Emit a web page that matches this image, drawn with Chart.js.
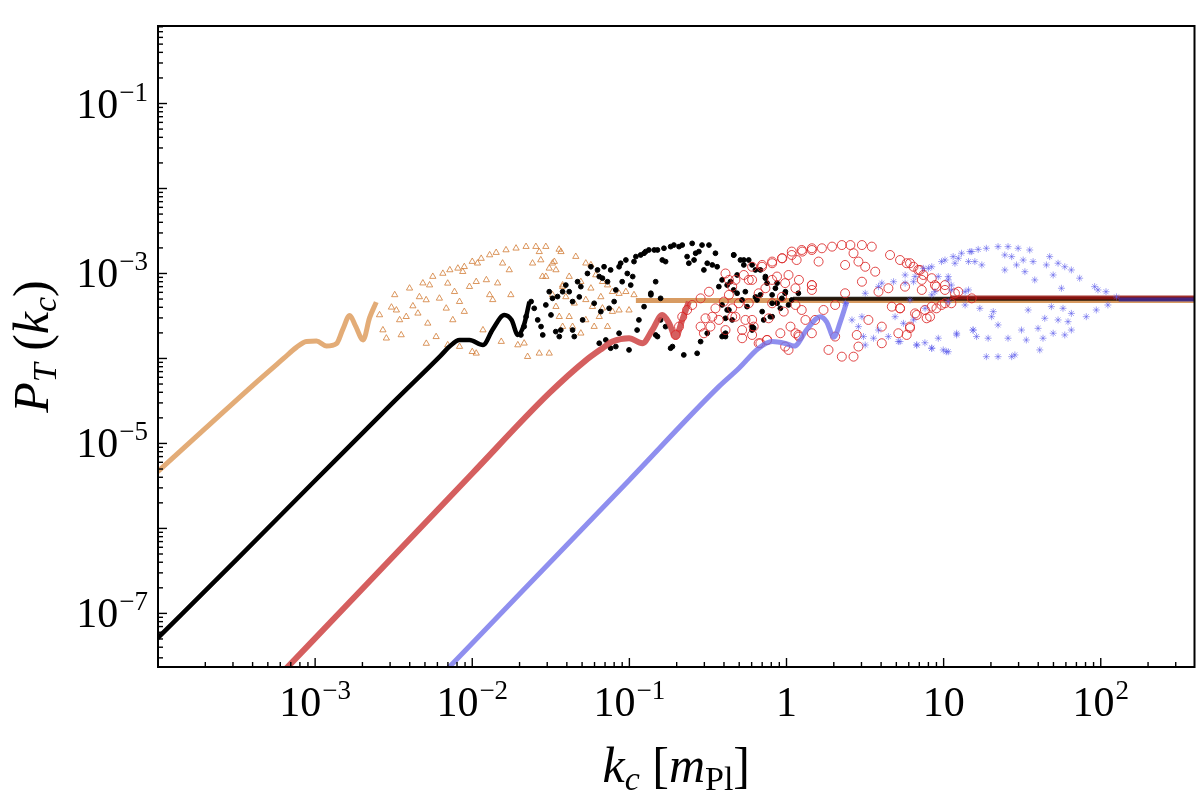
<!DOCTYPE html>
<html>
<head>
<meta charset="utf-8">
<script src="https://cdn.jsdelivr.net/npm/chart.js@4.4.1/dist/chart.umd.min.js"></script>
<style>
  html, body { margin: 0; padding: 0; background: #fff; }
  canvas { display: block; }
</style>
</head>
<body>
<canvas id="spectrumChart" width="1200" height="796"></canvas>
<script>
// smooth parts of each spectrum, [k, P]
const orangeCurve = [[9.5e-5,4.3e-6],[2.0e-4,1.5e-5],[4.0e-4,4.8e-5],[6.3e-4,1.0e-4],[7.6e-4,1.35e-4],[8.8e-4,1.58e-4],[1.02e-3,1.6e-4],[1.18e-3,1.4e-4],[1.37e-3,1.5e-4],[1.5e-3,2.2e-4],[1.66e-3,3.2e-4],[1.81e-3,2.4e-4],[2.02e-3,1.65e-4],[2.22e-3,3.0e-4],[2.45e-3,4.6e-4]];
const blackCurve = [[9.5e-5,4.7e-8],[3.16e-4,4.3e-7],[1.0e-3,3.66e-6],[3.16e-3,3.08e-5],[6.3e-3,1.08e-4],[7.16e-3,1.38e-4],[8.3e-3,1.65e-4],[9.6e-3,1.65e-4],[1.17e-2,1.44e-4],[1.35e-2,2.2e-4],[1.6e-2,3.25e-4],[1.78e-2,2.84e-4],[1.95e-2,1.89e-4],[2.15e-2,2.6e-4],[2.31e-2,4.66e-4]];
const redCurve = [[6.0e-4,1.9e-8],[2.0e-3,1.95e-7],[1.0e-2,4.43e-6],[3.09e-2,3.9e-5],[5.28e-2,9.5e-5],[6.74e-2,1.32e-4],[7.8e-2,1.58e-4],[9.95e-2,1.73e-4],[0.121,1.51e-4],[0.14,2.16e-4],[0.162,3.25e-4],[0.179,2.6e-4],[0.197,1.8e-4],[0.217,2.84e-4],[0.239,4.66e-4]];
const blueCurve = [[6.5e-3,1.95e-8],[2.0e-2,1.69e-7],[0.1,3.72e-6],[0.371,4.66e-5],[0.498,7.66e-5],[0.665,1.32e-4],[0.81,1.58e-4],[0.984,1.5e-4],[1.12,1.4e-4],[1.35,2.2e-4],[1.64,3.1e-4],[1.8,2.7e-4],[2.0,1.78e-4],[2.2,2.7e-4],[2.42,4.66e-4]];

// flat tails at large k
const orangeTail = [[0.11,4.8e-4],[400,4.8e-4]];
const blackTail = [[1.1,5.05e-4],[400,5.05e-4]];
const redTail = [[11,5.2e-4],[400,5.2e-4]];
const blueTail = [[130,4.95e-4],[400,4.95e-4]];

// scattered points in the oscillating region
const orangeDots = [[3.21e-3,5.6e-4],[3.99e-3,6.7e-4],[4.85e-3,7.7e-4],[5.61e-3,9.2e-4],[6.5e-3,1.0e-3],[7.2e-3,1.1e-3],[8.1e-3,1.15e-3],[8.9e-3,1.2e-3],[1.0e-2,1.38e-3],[1.14e-2,1.5e-3],[1.29e-2,1.65e-3],[1.42e-2,1.76e-3],[1.64e-2,1.89e-3],[1.9e-2,1.98e-3],[2.2e-2,2.07e-3],[2.54e-2,2.07e-3],[2.94e-2,2.07e-3],[3.57e-2,1.92e-3],[4.56e-2,1.58e-3],[5.28e-2,1.32e-3],
  [2.57e-3,3.25e-4],[2.7e-3,2.16e-4],[2.84e-3,1.73e-4],[3.06e-3,4.0e-4],[3.45e-3,2.84e-4],[3.53e-3,1.89e-4],[3.8e-3,3.1e-4],[4.19e-3,4.14e-4],[4.51e-3,3.4e-4],[4.61e-3,5.3e-4],[5.09e-3,4.88e-4],[5.21e-3,2.59e-4],[5.35e-3,7.3e-4],[5.89e-3,1.8e-4],[6.18e-3,5.1e-4],[6.83e-3,3.89e-4],[6.98e-3,7.66e-4],[7.52e-3,2.84e-4],[7.71e-3,6.1e-4],[8.3e-3,4.66e-4],[8.9e-3,3.56e-4],[8.7e-3,1.05e-3],[9.6e-3,7.0e-4],[1.06e-2,8.0e-4],[1.08e-2,1.32e-3],[1.17e-2,2.16e-4],[1.23e-2,8.4e-4],[1.29e-2,5.6e-4],[1.35e-2,4.9e-4],[1.45e-2,7.7e-4],[1.53e-2,1.58e-4],[1.56e-2,1.32e-3],[1.72e-2,1.1e-3],[1.76e-2,5.6e-4],[1.95e-2,1.44e-4],[2.14e-2,1.51e-4],[2.25e-2,1.05e-4],[2.42e-2,1.32e-3],[2.67e-2,1.15e-4],[3.09e-2,1.15e-4],[2.8e-2,9.2e-4],[3.09e-2,1.15e-3],[3.33e-2,1.38e-3],[3.76e-2,7.0e-4],[1.0e-2,1.2e-4],[1.06e-2,1.15e-4],[6.98e-3,1.44e-4],[8.3e-3,1.38e-4],[5.1e-3,1.5e-4],[3.29e-3,3.7e-4],
  [2.67e-2,1.8e-3],[3.67e-2,1.8e-3],[2.73e-2,1.44e-3],[3.24e-2,1.32e-3],[5.69e-2,1.26e-3],[3.41e-2,1.1e-3],[4.14e-2,9.2e-4],[4.91e-2,8.0e-4],[6.11e-2,9.6e-4],[6.74e-2,8.0e-4],[7.26e-2,7.3e-4],[2.94e-2,9.2e-4],[3.76e-2,7.3e-4],[5.69e-2,6.7e-4],[6.58e-2,5.3e-4],[7.8e-2,6.1e-4],[8.6e-2,5.8e-4],[9.5e-2,6.1e-4],[0.107,5.6e-4],[5.82e-2,4.07e-4],[6.74e-2,3.9e-4],[7.8e-2,3.56e-4],[8.6e-2,3.7e-4],[9.95e-2,3.7e-4],[3.24e-2,5.6e-4],[3.94e-2,5.3e-4],[4.46e-2,4.46e-4],[5.28e-2,4.9e-4],[4.14e-2,3.1e-4],[5.28e-2,2.84e-4],[6.43e-2,3.1e-4],[3.76e-2,2.37e-4],[4.35e-2,2.37e-4],[4.91e-2,1.98e-4],[5.97e-2,2.37e-4],[7.26e-2,2.37e-4],[3.58e-2,3.1e-4],[3.41e-2,4.07e-4]];

const blackDots = [[2.37e-2,4.67e-4],[2.2e-2,3.1e-4],[2.14e-2,2.37e-4],[2.04e-2,1.89e-4],[2.48e-2,3.89e-4],[2.61e-2,2.84e-4],[2.74e-2,2.37e-4],[2.81e-2,1.89e-4],[2.94e-2,4.26e-4],[3.09e-2,6.1e-4],[3.24e-2,5.1e-4],[3.17e-2,3.25e-4],[3.4e-2,2.07e-4],[3.66e-2,2.16e-4],[3.58e-2,1.81e-4],[3.76e-2,6.1e-4],[3.94e-2,7.3e-4],[4.35e-2,4.67e-4],[4.68e-2,8.0e-4],[4.8e-2,5.3e-4],[5.04e-2,2.84e-4],[4.35e-2,2.16e-4],[4.46e-2,1.81e-4],[5.41e-2,1.0e-3],[5.69e-2,1.2e-3],[5.97e-2,4.46e-4],[6.43e-2,9.2e-4],[6.58e-2,3.56e-4],[6.9e-2,1.2e-3],[7.26e-2,8.0e-4],[7.43e-2,3.89e-4],[8.0e-2,4.67e-4],[8.2e-2,6.4e-4],[8.6e-2,1.2e-3],[9.0e-2,8.0e-4],[9.5e-2,1.44e-3],[0.102,7.3e-4],[0.105,9.2e-4],[0.110,1.58e-3],[0.124,1.73e-3],[0.133,1.89e-3],[0.137,5.85e-4],[0.147,8.0e-4],[0.158,5.1e-4],[0.162,1.44e-3],[0.183,2.07e-3],[0.207,2.07e-3],[0.233,1.58e-3],[0.239,1.32e-3],[0.251,2.26e-3],[0.277,1.81e-3],[0.298,1.1e-3],[0.321,2.16e-3],[0.353,1.73e-3],[0.371,7.0e-4],[0.389,4.26e-4],[0.409,2.97e-4],[0.440,8.0e-4],[0.461,1.65e-3],[0.521,4.88e-4],[0.575,1.44e-3],[0.604,2.16e-4],[0.634,1.1e-3],[0.682,5.6e-4],[0.734,9.2e-4],[0.789,3.1e-4],[0.85,6.7e-4],[0.914,3.89e-4],[0.98,5.85e-4],[1.08,4.88e-4],
  [6.43e-2,1.51e-4],[9.95e-2,1.26e-4],[0.222,1.1e-4],[0.27,1.15e-4],[0.183,1.32e-4],[0.147,1.89e-4],[0.284,1.58e-4],[0.313,1.98e-4],[0.399,1.89e-4],[0.112,2.16e-4],[8.6e-2,1.98e-4],[0.170,2.37e-4],[0.124,4.07e-4],[0.118,1.65e-3],[0.313,1.32e-3],[0.509,1.44e-3],[7.6e-2,1.32e-4],
  [0.462,1.65e-3],[0.535,1.44e-3],[0.604,1.26e-3],[0.682,1.1e-3],[0.734,8.8e-4],[0.871,7.7e-4],[0.984,6.1e-4],[1.19,5.85e-4],[0.419,7.3e-4],[0.485,5.85e-4],[0.634,5.3e-4],[0.81,4.46e-4],[1.03,4.26e-4],[0.43,3.72e-4],[0.451,2.84e-4],[0.604,2.37e-4],[0.409,1.81e-4],[0.81,3.1e-4],[0.70,3.56e-4],
  [3.49e-2,5.35e-4],[4.14e-2,6.1e-4],[4.91e-2,7.0e-4],[6.27e-2,1.1e-3],[6.74e-2,8.8e-4],[7.6e-2,1.1e-3],[8.8e-2,1.32e-3],[9.7e-2,1.0e-3],[0.107,1.38e-3],[0.127,1.81e-3],[0.144,1.89e-3],[0.151,1.89e-3],[0.166,1.98e-3],[0.17,1.38e-3],[0.192,2.16e-3],[0.217,2.16e-3],[0.258,1.44e-3],[0.264,1.73e-3],[0.29,2.16e-3],[0.337,1.26e-3],[0.362,1.2e-3],[0.389,8.4e-4],[0.419,3.72e-4],[0.461,6.4e-4],[0.485,9.6e-4],[0.535,1.26e-3],[0.547,6.1e-4],[0.561,4.07e-4],[0.618,2.28e-4],[0.649,4.88e-4],[0.716,2.84e-4],[0.752,7.7e-4],[0.81,5.6e-4],[0.871,4.46e-4],[0.935,5.1e-4],[7.08e-2,1.65e-4],[8.2e-2,1.38e-4],[0.115,2.84e-4],[0.137,5.6e-4],[0.151,1.81e-4],[0.188,1.38e-4],[0.389,1.81e-4],[0.409,1.98e-4],[0.158,2.84e-4]];

const redDots = [[0.284,5.1e-4],[0.251,4.26e-4],[0.233,3.72e-4],[0.217,3.1e-4],[0.207,2.37e-4],[0.197,1.89e-4],[0.321,6.1e-4],[0.284,2.37e-4],[0.298,1.98e-4],[0.305,2.97e-4],[0.337,3.1e-4],[0.353,3.89e-4],[0.371,2.84e-4],[0.399,4.67e-4],[0.43,5.6e-4],[0.451,7.0e-4],[0.473,8.4e-4],[0.535,9.6e-4],[0.575,8.4e-4],[0.604,1.2e-3],[0.698,1.2e-3],[0.81,1.32e-3],[0.935,1.51e-3],[1.08,1.81e-3],[1.25,1.89e-3],[1.45,1.98e-3],[1.16,1.44e-3],[1.03,9.6e-4],[0.81,8.4e-4],[0.734,6.7e-4],[0.665,5.85e-4],[0.575,4.46e-4],[0.548,2.84e-4],[0.522,2.16e-4],[0.604,1.89e-4],[0.665,1.51e-4],[0.752,1.65e-4],[0.98,1.38e-4],[1.19,1.89e-4],[1.45,1.98e-4],[1.32,2.84e-4],[1.25,3.72e-4],[1.45,7.3e-4],[1.14,6.7e-4],[0.935,5.3e-4],[0.328,2.37e-4],[0.409,2.16e-4],[0.473,3.1e-4],[0.451,3.89e-4],[0.618,2.37e-4],[0.81,4.46e-4],[1.06,2.37e-4],
  [0.70,1.26e-3],[0.81,1.38e-3],[0.94,1.51e-3],[1.08,1.65e-3],[1.26,1.81e-3],[1.45,1.89e-3],[1.68,1.98e-3],[1.95,2.07e-3],[2.25,2.16e-3],[2.55,2.16e-3],[3.02,2.16e-3],[3.49,2.07e-3],[4.56,1.65e-3],[5.28,1.44e-3],[6.11,1.32e-3],[7.08,1.1e-3],[8.4,8.8e-4],[10.2,7.3e-4],[12.4,6.1e-4],[15.1,5.1e-4],[0.604,8.4e-4],[0.87,9.2e-4],[0.98,7.7e-4],[1.2,8.4e-4],[1.45,7.3e-4],[1.6,1.38e-3],[2.36,1.26e-3],[2.67,1.73e-3],[2.87,1.38e-3],[3.17,1.2e-3],[3.67,1.05e-3],[3.02,8.0e-4],[2.36,5.85e-4],[2.04,4.26e-4],[1.72,3.72e-4],[1.52,2.84e-4],[1.45,6.4e-4],[1.14,1.98e-4],[1.2,1.81e-4],[0.914,1.98e-4],[0.752,1.65e-4],[0.682,1.51e-4],[0.522,1.73e-4],[1.03,1.26e-4],[1.85,1.26e-4],[2.25,1.05e-4],[2.67,1.05e-4],[2.87,1.38e-4],[2.04,1.81e-4],[2.8,1.89e-4],[3.32,2.84e-4],[4.04,2.37e-4],[4.68,4.07e-4],[5.28,3.89e-4],[6.58,3.39e-4],[7.8,2.97e-4],[8.4,4.07e-4],[10.2,4.46e-4],[4.45,6.7e-4],[3.85,6.1e-4],[5.68,7.0e-4],[7.26,6.4e-4],[9.0,7.0e-4],[4.04,1.51e-4],[5.15,1.98e-4],[6.11,2.28e-4],[1.14,4.26e-4],[0.96,3.56e-4],[0.77,2.97e-4],[0.604,2.84e-4],[0.497,4.46e-4],[0.451,3.1e-4],[0.43,8.4e-4],[0.409,1.0e-3],
  [5.82,1.32e-3],[6.43,1.2e-3],[6.9,1.1e-3],[7.43,9.6e-4],[7.26,8.4e-4],[8.8,7.3e-4],[10.2,6.4e-4],[11.8,5.85e-4],[9.7,4.26e-4],[11.2,4.46e-4],[9.0,3.89e-4],[7.6,3.72e-4],[8.2,3.1e-4],[6.11,2.37e-4],[5.82,1.89e-4],[5.28,3.89e-4],[6.74,3.25e-4]];

const blueDots = [[2.37,4.46e-4],[2.61,2.84e-4],[3.02,3.1e-4],[3.17,5.85e-4],[3.85,7.0e-4],[4.04,7.7e-4],[4.8,8.0e-4],[5.69,7.7e-4],[6.58,9.2e-4],[7.43,1.15e-3],[8.4,1.2e-3],[10.2,1.44e-3],[12.4,1.51e-3],[15.1,1.81e-3],[14.4,1.38e-3],[10.7,9.2e-4],[11.2,7.3e-4],[13.7,6.1e-4],[10.7,4.67e-4],[7.62,3.89e-4],[6.43,2.84e-4],[5.55,2.59e-4],[4.45,1.81e-4],[3.58,1.73e-4],[2.87,2.37e-4],[3.09,1.81e-4],[5.15,1.58e-4],[6.74,1.44e-4],[8.4,1.32e-4],[10.4,1.2e-4],[12.1,1.98e-4],[15.4,2.16e-4],[3.17,1.44e-4],[3.85,2.16e-4],[4.91,3.1e-4],[6.11,4.88e-4],[8.4,5.6e-4],
  [8.0,1.15e-3],[9.7,1.38e-3],[11.5,1.58e-3],[13.0,1.73e-3],[14.7,1.81e-3],[16.6,1.92e-3],[18.7,1.98e-3],[22.2,2.07e-3],[25.7,2.07e-3],[29.8,1.98e-3],[35.3,1.89e-3],[47.3,1.58e-3],[53.5,1.32e-3],[59.0,1.2e-3],[65.0,1.1e-3],[73.4,8.8e-4],[91.4,7.0e-4],[108,6.1e-4],[126,5.3e-4],[5.69,9.6e-4],[6.43,8.0e-4],[9.25,9.2e-4],[10.7,8.4e-4],[11.8,1.32e-3],[15.8,1.38e-3],[17.5,1.26e-3],[24.5,1.65e-3],[27.1,1.58e-3],[32.1,1.44e-3],[37.1,1.38e-3],[29.1,1.26e-3],[32.9,1.05e-3],[24.5,1.1e-3],[38.0,8.4e-4],[45.1,1.26e-3],[49.8,9.6e-4],[56.2,6.7e-4],[96,6.4e-4],[14.4,6.4e-4],[11.2,6.4e-4],[8.8,6.1e-4],[13.7,4.26e-4],[17.0,3.89e-4],[20.7,3.56e-4],[20.2,3.1e-4],[34.5,3.72e-4],[44.0,2.97e-4],[48.5,4.07e-4],[57.5,3.89e-4],[65.0,3.39e-4],[80.9,3.1e-4],[93.7,3.72e-4],[111,4.26e-4],[53.5,2.84e-4],[61.9,2.71e-4],[22.2,2.48e-4],[15.4,2.16e-4],[12.1,1.89e-4],[9.25,1.73e-4],[16.2,1.81e-4],[19.2,1.73e-4],[25.7,1.73e-4],[31.3,2.16e-4],[33.6,1.65e-4],[39.9,2.26e-4],[42.9,1.73e-4],[49.8,1.98e-4],[59.0,1.89e-4],[65.0,2.16e-4],[40.9,1.26e-4],[7.6,1.53e-4],[6.74,1.44e-4],[8.4,1.32e-4],[9.95,1.26e-4],[10.7,1.2e-4],[18.7,1.05e-4],[22.2,1.05e-4],[27.1,1.05e-4],[28.4,1.1e-4],[5.28,1.58e-4]];

// axis ticks
const xTickValues = [1e-3, 1e-2, 1e-1, 1, 10, 100];
const xTickBase = ['10', '10', '10', '1', '10', '10'];
const xTickSup = ['\u22123', '\u22122', '\u22121', '', '', '2'];
const yTickValues = [1e-7, 1e-5, 1e-3, 1e-1];
const yTickBase = ['10', '10', '10', '10'];
const yTickSup = ['\u22127', '\u22125', '\u22123', '\u22121'];

const serif = '"Liberation Serif", "DejaVu Serif", serif';

function toPoints(list) {
    return list.map(p => ({ x: p[0], y: p[1] }));
}

function curveSet(list, color, width, order) {
    return {
        data: toPoints(list), showLine: true, pointRadius: 0,
        borderColor: color, borderWidth: width, cubicInterpolationMode: 'monotone',
        clip: 0, order: order
    };
}

function dotSet(list, style, radius, color, fill, order) {
    return {
        data: toPoints(list), showLine: false, pointStyle: style, pointRadius: radius,
        pointBorderColor: color, pointBackgroundColor: fill, pointBorderWidth: 1,
        borderColor: color, backgroundColor: fill, order: order
    };
}

// draws "10" with a raised exponent
function drawPower(ctx, base, sup, x, y, align) {
    ctx.font = '42px ' + serif;
    const wb = ctx.measureText(base).width;
    ctx.font = '27px ' + serif;
    const ws = sup ? ctx.measureText(sup).width + 1 : 0;
    const left = align === 'center' ? x - (wb + ws) / 2 : x - (wb + ws);
    ctx.textAlign = 'left';
    ctx.textBaseline = 'alphabetic';
    ctx.font = '42px ' + serif;
    ctx.fillText(base, left, y);
    if (sup) {
        ctx.font = '27px ' + serif;
        ctx.fillText(sup, left + wb + 1, y - 17);
    }
}

// draws a list of text pieces, some lowered as subscripts
function drawPieces(ctx, pieces, cx, y) {
    let total = 0;
    pieces.forEach(p => { ctx.font = p.f; total += ctx.measureText(p.t).width; });
    let x = cx - total / 2;
    ctx.textAlign = 'left';
    ctx.textBaseline = 'alphabetic';
    pieces.forEach(p => {
        ctx.font = p.f;
        ctx.fillText(p.t, x, y + (p.dy || 0));
        x += ctx.measureText(p.t).width;
    });
}

const axisDecor = {
    id: 'axisDecor',
    afterDraw(chart) {
        const ctx = chart.ctx;
        const a = chart.chartArea;
        const xs = chart.scales.x, ys = chart.scales.y;
        ctx.save();
        ctx.strokeStyle = '#000';
        ctx.fillStyle = '#000';

        // inward ticks, majors at decades
        ctx.lineWidth = 1.4;
        for (let d = -9; d <= 3; d++) {
            for (let m = 1; m <= 9; m++) {
                const v = m * Math.pow(10, d);
                const len = m === 1 ? 9 : 5;
                if (v > xs.min && v < xs.max) {
                    const px = xs.getPixelForValue(v);
                    ctx.beginPath(); ctx.moveTo(px, a.bottom); ctx.lineTo(px, a.bottom - len); ctx.stroke();
                }
                if (v > ys.min && v < ys.max) {
                    const py = ys.getPixelForValue(v);
                    ctx.beginPath(); ctx.moveTo(a.left, py); ctx.lineTo(a.left + len, py); ctx.stroke();
                }
            }
        }

        // frame
        ctx.lineWidth = 2;
        ctx.strokeRect(a.left, a.top, a.right - a.left, a.bottom - a.top);

        // tick labels
        xTickValues.forEach((v, i) => {
            drawPower(ctx, xTickBase[i], xTickSup[i], xs.getPixelForValue(v), a.bottom + 49, 'center');
        });
        yTickValues.forEach((v, i) => {
            drawPower(ctx, yTickBase[i], yTickSup[i], a.left - 10, ys.getPixelForValue(v) + 14, 'right');
        });

        // axis titles
        const big = 'italic 50px ' + serif, small = 'italic 34px ' + serif;
        drawPieces(ctx, [
            { t: 'k', f: big }, { t: 'c', f: small, dy: 8 },
            { t: ' [', f: '50px ' + serif }, { t: 'm', f: big },
            { t: 'Pl', f: '34px ' + serif, dy: 8 }, { t: ']', f: '50px ' + serif }
        ], (a.left + a.right) / 2, 782);

        ctx.translate(48, (a.top + a.bottom) / 2);
        ctx.rotate(-Math.PI / 2);
        drawPieces(ctx, [
            { t: 'P', f: big }, { t: 'T', f: small, dy: 8 },
            { t: ' (', f: '50px ' + serif }, { t: 'k', f: big },
            { t: 'c', f: small, dy: 8 }, { t: ')', f: '50px ' + serif }
        ], 0, 0);
        ctx.restore();
    }
};

new Chart(document.getElementById('spectrumChart'), {
    type: 'scatter',
    data: {
        datasets: [
            curveSet(orangeCurve, 'rgba(226,168,112,0.95)', 5, 8),
            curveSet(orangeTail, 'rgba(214,150,90,0.95)', 5, 8),
            dotSet(orangeDots, 'triangle', 3.6, 'rgba(210,125,55,0.8)', 'rgba(0,0,0,0)', 7),
            curveSet(blackCurve, '#000', 4.5, 6),
            curveSet(blackTail, 'rgba(20,10,0,0.9)', 4, 6),
            dotSet(blackDots, 'circle', 2.4, '#000', '#000', 5),
            curveSet(redCurve, 'rgba(208,78,78,0.9)', 6, 4),
            curveSet(redTail, 'rgba(150,20,15,0.85)', 4, 4),
            dotSet(redDots, 'circle', 4.5, 'rgba(220,40,40,0.85)', 'rgba(0,0,0,0)', 3),
            curveSet(blueCurve, 'rgba(115,115,235,0.8)', 5, 2),
            curveSet(blueTail, 'rgba(60,40,150,0.8)', 4, 2),
            dotSet(blueDots, 'star', 3.5, 'rgba(90,90,235,0.55)', 'rgba(0,0,0,0)', 1)
        ]
    },
    options: {
        responsive: false,
        animation: false,
        devicePixelRatio: 1,
        layout: { padding: { top: 26, right: 3, left: 0, bottom: 0 } },
        plugins: { legend: { display: false }, tooltip: { enabled: false } },
        scales: {
            x: {
                type: 'logarithmic', min: 1e-4, max: 395,
                grid: { display: false }, border: { display: false }, ticks: { display: false },
                afterFit(scale) { scale.height = 129; }
            },
            y: {
                type: 'logarithmic', min: 2.34e-8, max: 0.817,
                grid: { display: false }, border: { display: false }, ticks: { display: false },
                afterFit(scale) { scale.width = 158; }
            }
        }
    },
    plugins: [axisDecor]
});
</script>
</body>
</html>
